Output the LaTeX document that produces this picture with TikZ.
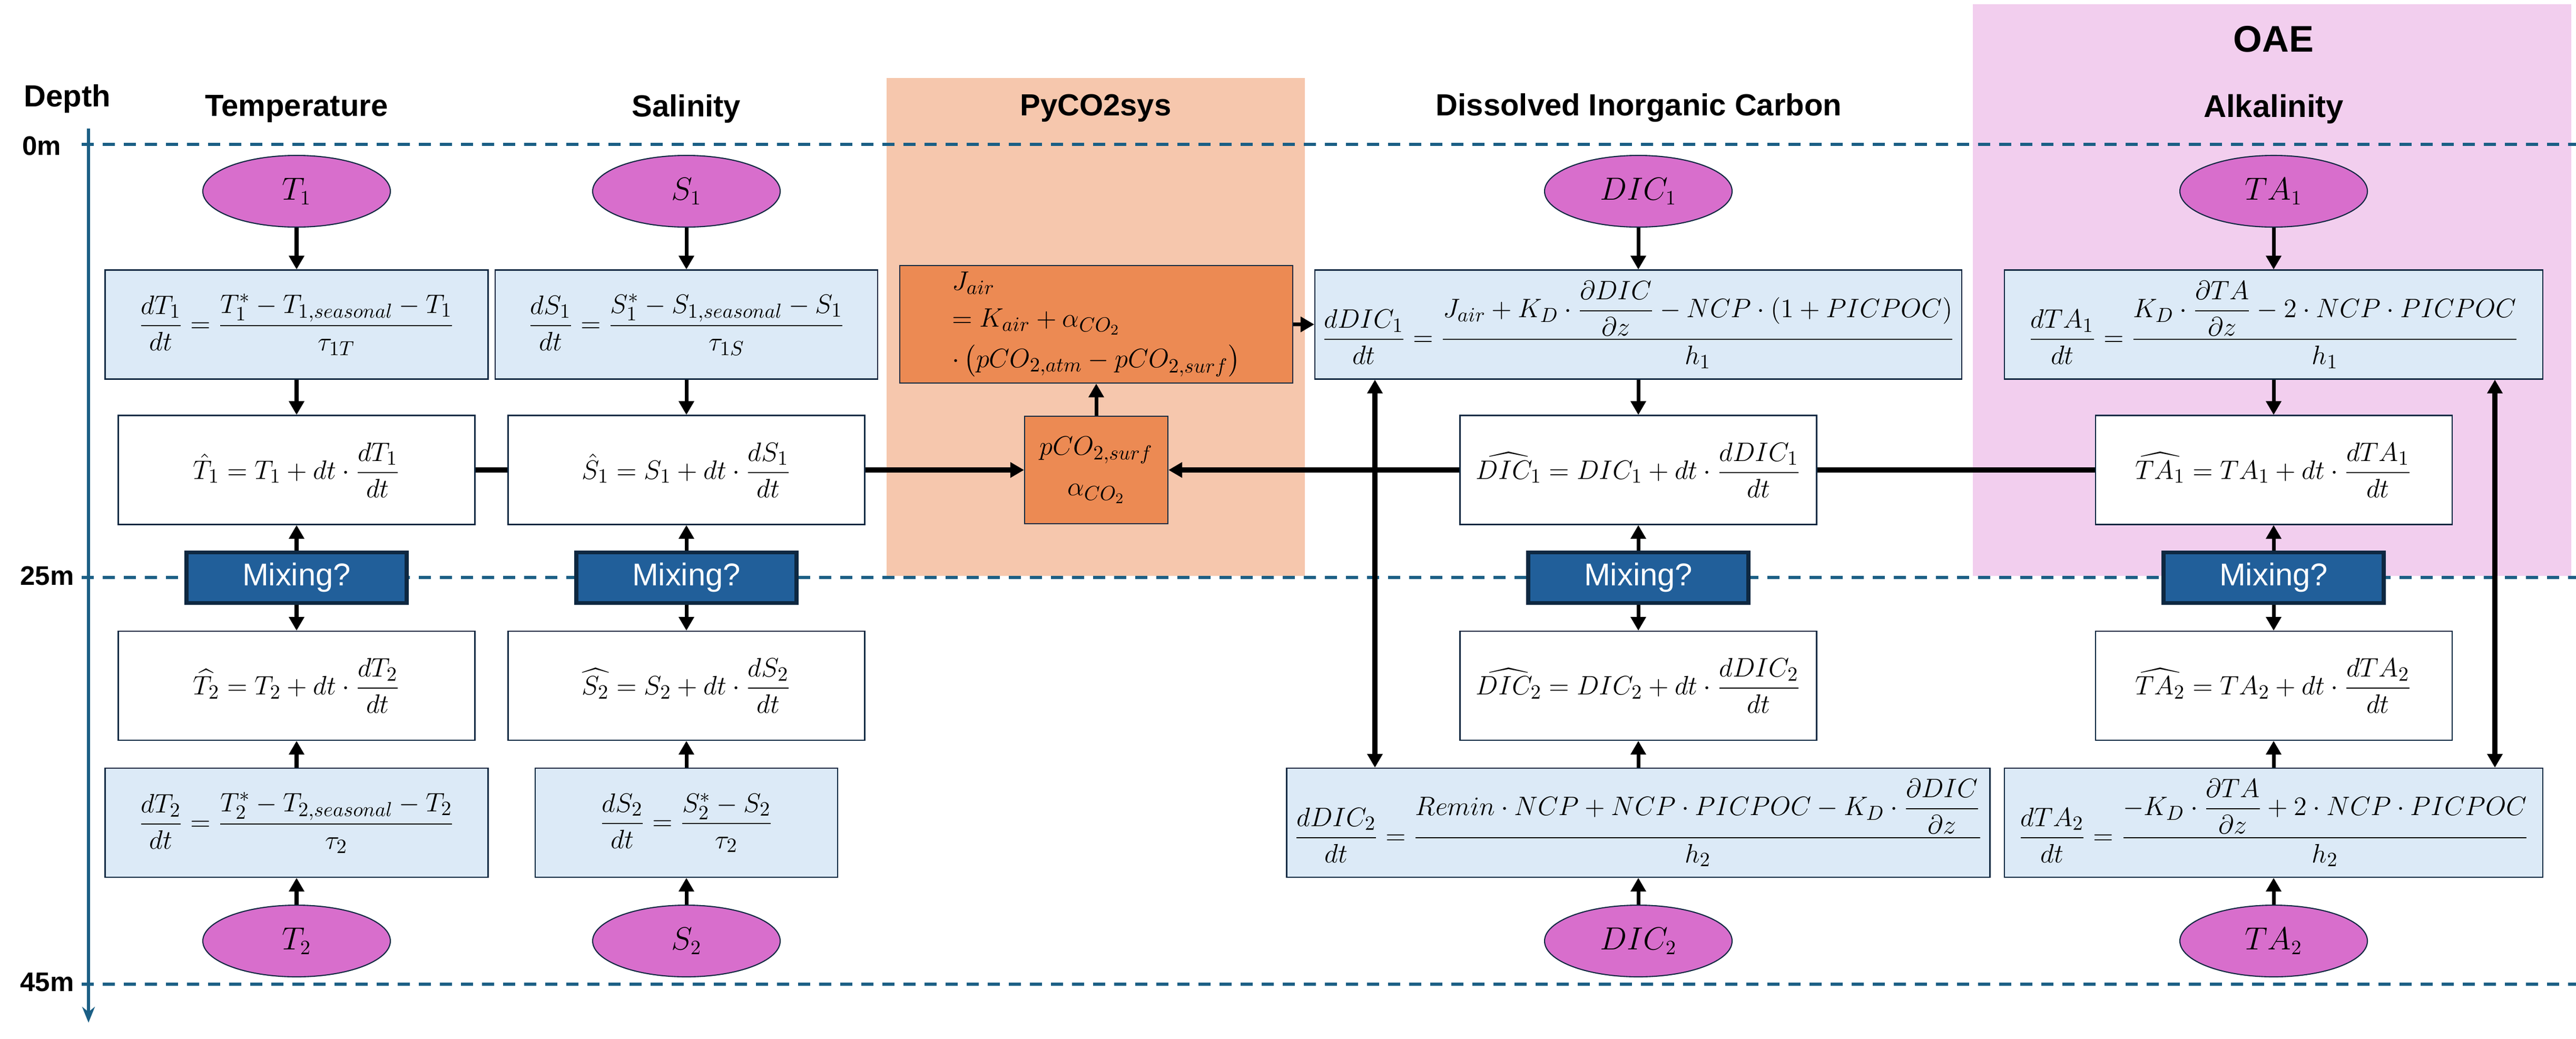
\documentclass[tikz,border=0pt]{standalone}
\usepackage{amsmath}
\usepackage{fontspec}
\usetikzlibrary{shapes.geometric,arrows.meta}
\newfontfamily\headfont{Liberation Sans}
\definecolor{navy}{HTML}{0E2841}
\definecolor{depthblue}{HTML}{1B5F85}
\definecolor{ratefill}{HTML}{DCEAF7}
\definecolor{varfill}{HTML}{D86ECC}
\definecolor{mixfill}{HTML}{215F9A}
\definecolor{pyfill}{HTML}{EC8A53}
\definecolor{pypanel}{HTML}{F6C7AD}
\definecolor{oaepanel}{HTML}{F2CEEE}

\begin{document}
\begin{tikzpicture}[>={Triangle[length=2.6mm,width=2.8mm]},
  varnode/.style={ellipse, draw=navy, fill=varfill, line width=0.6pt, minimum width=3.56cm, minimum height=1.36cm, inner sep=0pt, font=\fontsize{16}{19}\selectfont},
  ratenode/.style={rectangle, draw=navy, fill=ratefill, line width=0.6pt, minimum height=2.07cm, inner sep=2pt, font=\fontsize{15.5}{18}\selectfont},
  stepnode/.style={rectangle, draw=navy, fill=white, line width=0.6pt, minimum width=6.77cm, minimum height=2.07cm, inner sep=2pt, font=\fontsize{15.5}{18}\selectfont},
  mixnode/.style={rectangle, draw=navy, fill=mixfill, line width=2.2pt, minimum width=4.18cm, minimum height=0.96cm, text=white, font=\headfont\fontsize{17}{20}\selectfont},
  pynode/.style={rectangle, draw=navy, fill=pyfill, line width=0.6pt, inner sep=2pt, font=\fontsize{15.5}{18}\selectfont},
  headnode/.style={font=\headfont\bfseries\fontsize{16.5}{20}\selectfont},
  depthnode/.style={anchor=west, font=\headfont\bfseries\fontsize{14.5}{17}\selectfont},
  flow/.style={->, line width=2pt},
  link/.style={line width=2.6pt},
  depthline/.style={depthblue, line width=1.7pt, dash pattern=on 2.3mm off 1.7mm},]
\useasboundingbox (0,0) rectangle (48.9,-19.71);
% panels
\fill[pypanel] (16.83,-1.48) rectangle (24.77,-10.93);
\fill[oaepanel] (37.45,-0.08) rectangle (48.81,-10.93);
% depth axis
\coordinate (axis_top) at (1.68,-2.44);
\coordinate (axis_end) at (1.68,-19.41);
\draw[depthblue, line width=1.6pt, -{Stealth[length=3mm,width=2.4mm]}] (axis_top) -- (axis_end);
\draw[depthline] (1.55,-2.74) -- (48.9,-2.74);
\draw[depthline] (1.55,-10.96) -- (48.9,-10.96);
\draw[depthline] (1.55,-18.68) -- (48.9,-18.68);
\node[headnode] (depth) at (1.28,-1.88) {Depth};
\node[depthnode] (depth_0) at (0.30,-2.77) {0m};
\node[depthnode] (depth_25) at (0.26,-10.93) {25m};
\node[depthnode] (depth_45) at (0.26,-18.64) {45m};
% headers
\node[headnode] (t_head) at (5.63,-2.07) {Temperature};
\node[headnode] (s_head) at (13.03,-2.07) {Salinity};
\node[headnode] (py_head) at (20.80,-2.05) {PyCO2sys};
\node[headnode] (dic_head) at (31.11,-2.05) {Dissolved Inorganic Carbon};
\node[headnode, font=\headfont\bfseries\fontsize{20}{24}\selectfont] (oae_head) at (43.16,-0.74) {OAE};
\node[headnode, font=\headfont\bfseries\fontsize{17}{20}\selectfont] (ta_head) at (43.16,-2.07) {Alkalinity};
% temperature
\node[varnode] (t_var_1) at (5.63,-3.63) {$T_1$};
\node[ratenode, minimum width=7.27cm] (t_rate_1) at (5.63,-6.16) {$\displaystyle\frac{dT_1}{dt}=\frac{T_1^*-T_{1,seasonal}-T_1}{\tau_{1T}}$};
\node[stepnode] (t_step_1) at (5.63,-8.92) {$\displaystyle\hat{T}_1=T_1+dt\cdot\frac{dT_1}{dt}$};
\node[mixnode] (t_mix) at (5.63,-10.965) {Mixing?};
\node[stepnode] (t_step_2) at (5.63,-13.015) {$\displaystyle\widehat{T_2}=T_2+dt\cdot\frac{dT_2}{dt}$};
\node[ratenode, minimum width=7.27cm] (t_rate_2) at (5.63,-15.615) {$\displaystyle\frac{dT_2}{dt}=\frac{T_2^*-T_{2,seasonal}-T_2}{\tau_2}$};
\node[varnode] (t_var_2) at (5.63,-17.86) {$T_2$};
% salinity
\node[varnode] (s_var_1) at (13.03,-3.63) {$S_1$};
\node[ratenode, minimum width=7.26cm] (s_rate_1) at (13.03,-6.16) {$\displaystyle\frac{dS_1}{dt}=\frac{S_1^*-S_{1,seasonal}-S_1}{\tau_{1S}}$};
\node[stepnode] (s_step_1) at (13.03,-8.92) {$\displaystyle\hat{S}_1=S_1+dt\cdot\frac{dS_1}{dt}$};
\node[mixnode] (s_mix) at (13.03,-10.965) {Mixing?};
\node[stepnode] (s_step_2) at (13.03,-13.015) {$\displaystyle\widehat{S_2}=S_2+dt\cdot\frac{dS_2}{dt}$};
\node[ratenode, minimum width=5.74cm] (s_rate_2) at (13.03,-15.615) {$\displaystyle\frac{dS_2}{dt}=\frac{S_2^*-S_2}{\tau_2}$};
\node[varnode] (s_var_2) at (13.03,-17.86) {$S_2$};
% pyco2sys
\node[pynode, minimum width=7.46cm, minimum height=2.23cm, align=left] (j_air) at (20.81,-6.155) {$J_{air}$\\[2pt]$= K_{air} + \alpha_{CO_2}$\\[4pt]$\cdot\left(pCO_{2,atm} - pCO_{2,surf}\right)$};
\node[pynode, minimum width=2.72cm, minimum height=2.04cm, align=center] (pco2) at (20.81,-8.92) {$pCO_{2,surf}$\\[4pt]$\alpha_{CO_2}$};
% dissolved inorganic carbon
\node[varnode] (dic_var_1) at (31.10,-3.63) {$DIC_1$};
\node[ratenode, minimum width=12.28cm] (dic_rate_1) at (31.10,-6.16) {$\displaystyle\frac{dDIC_1}{dt}=\frac{J_{air}+K_D\cdot\dfrac{\partial DIC}{\partial z}-NCP\cdot(1+PICPOC)}{h_1}$};
\node[stepnode] (dic_step_1) at (31.10,-8.92) {$\displaystyle\widehat{DIC_1}=DIC_1+dt\cdot\frac{dDIC_1}{dt}$};
\node[mixnode] (dic_mix) at (31.10,-10.965) {Mixing?};
\node[stepnode] (dic_step_2) at (31.10,-13.015) {$\displaystyle\widehat{DIC_2}=DIC_2+dt\cdot\frac{dDIC_2}{dt}$};
\node[ratenode, minimum width=13.35cm] (dic_rate_2) at (31.10,-15.615) {$\displaystyle\frac{dDIC_2}{dt}=\frac{Remin\cdot NCP+NCP\cdot PICPOC-K_D\cdot\dfrac{\partial DIC}{\partial z}}{h_2}$};
\node[varnode] (dic_var_2) at (31.10,-17.86) {$DIC_2$};
% alkalinity
\node[varnode] (ta_var_1) at (43.16,-3.63) {$TA_1$};
\node[ratenode, minimum width=10.22cm] (ta_rate_1) at (43.16,-6.16) {$\displaystyle\frac{dTA_1}{dt}=\frac{K_D\cdot\dfrac{\partial TA}{\partial z}-2\cdot NCP\cdot PICPOC}{h_1}$};
\node[stepnode] (ta_step_1) at (43.16,-8.92) {$\displaystyle\widehat{TA_1}=TA_1+dt\cdot\frac{dTA_1}{dt}$};
\node[mixnode] (ta_mix) at (43.16,-10.965) {Mixing?};
\node[stepnode] (ta_step_2) at (43.16,-13.015) {$\displaystyle\widehat{TA_2}=TA_2+dt\cdot\frac{dTA_2}{dt}$};
\node[ratenode, minimum width=10.22cm] (ta_rate_2) at (43.16,-15.615) {$\displaystyle\frac{dTA_2}{dt}=\frac{-K_D\cdot\dfrac{\partial TA}{\partial z}+2\cdot NCP\cdot PICPOC}{h_2}$};
\node[varnode] (ta_var_2) at (43.16,-17.86) {$TA_2$};
% edges
\draw[flow] (t_var_1) -- (t_rate_1);
\draw[flow] (t_rate_1) -- (t_step_1);
\draw[flow] (t_mix) -- (t_step_1);
\draw[flow] (t_mix) -- (t_step_2);
\draw[flow] (t_rate_2) -- (t_step_2);
\draw[flow] (t_var_2) -- (t_rate_2);
\draw[flow] (s_var_1) -- (s_rate_1);
\draw[flow] (s_rate_1) -- (s_step_1);
\draw[flow] (s_mix) -- (s_step_1);
\draw[flow] (s_mix) -- (s_step_2);
\draw[flow] (s_rate_2) -- (s_step_2);
\draw[flow] (s_var_2) -- (s_rate_2);
\draw[flow] (dic_var_1) -- (dic_rate_1);
\draw[flow] (dic_rate_1) -- (dic_step_1);
\draw[flow] (dic_mix) -- (dic_step_1);
\draw[flow] (dic_mix) -- (dic_step_2);
\draw[flow] (dic_rate_2) -- (dic_step_2);
\draw[flow] (dic_var_2) -- (dic_rate_2);
\draw[flow] (ta_var_1) -- (ta_rate_1);
\draw[flow] (ta_rate_1) -- (ta_step_1);
\draw[flow] (ta_mix) -- (ta_step_1);
\draw[flow] (ta_mix) -- (ta_step_2);
\draw[flow] (ta_rate_2) -- (ta_step_2);
\draw[flow] (ta_var_2) -- (ta_rate_2);
\draw[link] (t_step_1) -- (s_step_1);
\draw[link, ->] (s_step_1) -- (pco2);
\draw[link, ->] (dic_step_1) -- (pco2);
\draw[link] (ta_step_1) -- (dic_step_1);
\draw[flow] (pco2) -- (j_air);
\draw[flow] (j_air) -- (dic_rate_1);
\draw[link, <->] ([xshift=-5cm]dic_rate_1.south) -- ([xshift=-5cm]dic_rate_2.north);
\draw[link, <->] ([xshift=4.2cm]ta_rate_1.south) -- ([xshift=4.2cm]ta_rate_2.north);
\end{tikzpicture}
\end{document}
